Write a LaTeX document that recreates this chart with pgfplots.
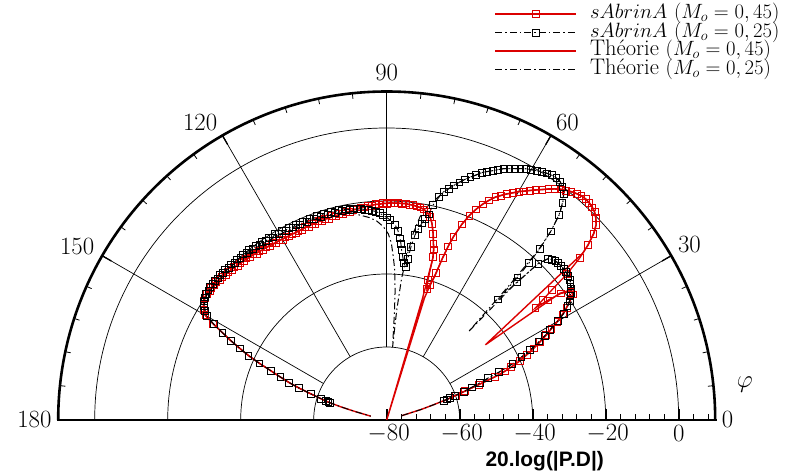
\documentclass[border=0pt]{standalone}
\usepackage{fontspec}
\usepackage{pgfplots}
\pgfplotsset{compat=1.18}
\usepackage{pgfplotstable}
\newfontfamily\labelfont{Liberation Sans}
\definecolor{myred}{rgb}{0.86,0,0}

\pgfplotstableread{
t r
18.4 -63.5
18.8 -62.5
19.2 -61.6
19.6 -60
20.3 -57.1
21.0 -53
21.7 -48.1
22.4 -45
23.0 -43
24.0 -40
25.0 -37.6
26.0 -35.2
27.0 -32.9
28.0 -30.5
29.0 -28.4
30.0 -26
31.0 -23.8
32.0 -21.9
33.0 -20.2
34.0 -18.4
35.0 -18.6
36.0 -21
36.6 -25
37.0 -29
37.6 -26
38.2 -22.5
39.0 -16.5
40.0 -11
41.0 -7
42.0 -3.8
43.0 -1.6
44.0 -0.4
45.0 0.5
46.0 1.0
47.0 1.3
48.0 1.4
49.0 1.3
50.0 0.9
51.0 0.4
52.0 -0.2
53.0 -0.9
54.0 -1.8
55.0 -2.8
56.0 -3.9
57.0 -4.9
58.0 -5.9
59.0 -6.9
60.0 -7.8
61.0 -8.9
62.0 -9.9
63.0 -11
64.0 -12.1
65.0 -13.6
66.0 -15.3
67.0 -17.3
68.0 -19.6
69.0 -22.6
70.0 -26.6
70.5 -29.5
71.0 -33
71.5 -37.5
72.2 -41
72.9 -42.5
73.6 -40
74.1 -33.5
74.6 -31.5
75.2 -30
76 -27.5
77 -24.8
78 -23
79 -22
80 -21.4
81 -21.0
82 -20.9
83 -20.6
84 -20.7
85 -20.4
86 -20.6
87 -20.4
88 -20.6
89 -20.4
90 -20.7
91 -20.6
92 -20.9
93 -20.8
94 -21.1
95 -21.0
96 -21.4
97 -21.3
98 -21.7
99 -21.6
100 -22.0
101 -21.9
102 -22.3
103 -22.1
104 -22.5
105 -22.2
106 -22.6
107 -22.3
108 -22.8
109 -22.4
110 -22.9
111 -22.5
112 -23.0
113 -22.6
114 -23.1
115 -22.7
116 -23.1
117 -22.7
118 -23.0
119 -22.7
120 -22.9
121 -22.5
122 -22.8
123 -22.3
124 -22.6
125 -22.1
126 -22.4
127 -21.9
128 -22.1
129 -21.6
130 -21.8
131 -21.3
132 -21.5
133 -21.0
134 -21.2
135 -20.7
136 -20.9
137 -20.4
138 -20.6
139 -20.2
140 -20.3
141 -19.9
142 -20.1
143 -19.8
144 -20.0
145 -19.8
146 -20.0
147 -20.2
148 -20.8
149 -21.6
150 -22.6
151 -25.6
152 -29
153 -32
154 -35.2
155 -38.2
156 -41.8
157 -45.6
158 -48.6
159 -51.3
160 -54.5
161 -58
162 -61
162.6 -62.5
163 -63.3
163.3 -63.8
}\redsim

\pgfplotstableread{
t r
18.4 -63.5
18.8 -62.5
19.2 -61.6
19.6 -60.2
20.3 -57.5
21.0 -55
21.7 -52.5
22.5 -50
23.1 -46.5
24.1 -42.3
25.0 -39.3
26.0 -36.3
27.3 -33
28.0 -31
28.9 -29
30.0 -25.8
31.0 -23.5
32.2 -21.5
33.0 -20.3
34.0 -19.3
34.6 -18.8
35.5 -18
36.5 -17.4
37.4 -16.9
38.5 -16.5
39.5 -16.3
40.5 -16.2
41.5 -16.2
42.5 -16.3
43.3 -16.5
44.1 -16.9
45.0 -17.5
45.9 -20.3
46.6 -28
47.3 -35
47.5 -27
47.8 -22
48.2 -17
49.0 -11.5
50.0 -6.5
51.0 -3.5
52.0 -1.3
53.0 0.0
54.0 0.7
55.0 1.0
56.0 0.9
57.0 0.6
58.0 0.2
59.0 -0.3
60.0 -0.8
61.0 -1.3
62.0 -2.0
63.0 -2.7
64.0 -3.4
65.0 -4.0
66.0 -4.9
67.0 -5.8
68.0 -6.6
69.0 -7.4
70.0 -8.6
71.0 -9.6
72.0 -10.7
73.0 -11.9
74.0 -13.1
75.0 -14.4
76.0 -15.6
76.8 -17.3
77.8 -19.7
78.5 -22.5
79.2 -24
79.9 -25.3
80.6 -27
81.3 -28.7
82.0 -32
82.5 -35.5
82.9 -37.8
83.8 -36.8
84.4 -35
85.0 -33.2
85.4 -31.5
85.8 -30.1
86.6 -28
87.5 -26.5
89.0 -25.2
90.0 -24.5
91.0 -23.9
92.0 -23.3
93.0 -22.8
94.0 -22.5
95.0 -22.1
96.0 -22.0
97.0 -21.7
98.0 -21.6
99 -21.3
100 -21.5
101 -21.1
102 -21.4
103 -21.0
104 -21.4
105 -20.9
106 -21.4
107 -20.9
108 -21.4
109 -20.9
110 -21.4
111 -20.9
112 -21.4
113 -20.9
114 -21.3
115 -20.9
116 -21.3
117 -20.8
118 -21.2
119 -20.7
120 -21.1
121 -20.6
122 -21.0
123 -20.5
124 -20.9
125 -20.4
126 -20.7
127 -20.3
128 -20.5
129 -20.1
130 -20.3
131 -19.9
132 -20.1
133 -19.8
134 -20.0
135 -19.7
136 -19.9
137 -19.5
138 -19.7
139 -19.4
140 -19.6
141 -19.4
142 -19.5
143 -19.4
144 -19.6
145 -19.6
146 -19.9
147 -20.3
148 -21.0
149 -21.8
150 -23
151 -25.8
152 -29
153 -32
154 -35.2
155 -38.2
156 -41.8
157 -45.6
158 -48.6
159 -51.3
160 -54.5
161 -58
162 -61
162.6 -62.5
163 -63.3
163.3 -63.8
}\blacksim

\pgfplotstableread{
t r
16 -75.7
17 -70.2
18 -66.5
19 -62
20 -58
21 -53
22 -46.5
23 -43
24 -40
25 -37.6
26 -35.2
27 -32.9
28 -30.5
29 -28.4
30 -26
31 -23.8
32 -21.9
33 -20.2
34 -18.6
34.6 -17.9
35.4 -18.8
36.2 -21.2
37.3 -46
40.4 -9.4
41 -6.8
42 -3.6
43 -1.5
44 -0.3
45 0.6
46 1.1
47 1.4
48 1.5
49 1.4
50 1.0
51 0.5
52 -0.1
53 -0.8
54 -1.7
55 -2.7
56 -3.8
57 -4.8
58 -5.8
59 -6.8
60 -7.7
61 -8.8
62 -9.8
63 -10.9
64 -12.0
65 -13.5
66 -15.2
67 -17.2
68 -19.6
69 -22.6
70 -26.6
70.5 -29.5
71 -33.5
71.5 -38.5
72.2 -41.5
72.8 -45
73.2 -80
73.6 -45
74.1 -34
74.6 -31.5
75.2 -29.8
76 -27.3
77 -24.8
78 -23
79 -22
80 -21.4
82 -20.9
84 -20.6
86 -20.5
88 -20.5
90 -20.6
92 -20.8
94 -21
96 -21.3
98 -21.6
100 -21.9
102 -22.1
104 -22.3
106 -22.4
108 -22.5
110 -22.6
112 -22.7
114 -22.8
116 -22.9
118 -22.9
120 -22.8
122 -22.7
124 -22.5
126 -22.3
128 -22
130 -21.7
132 -21.4
134 -21.1
136 -20.8
138 -20.5
140 -20.2
142 -20.0
144 -19.9
146 -19.9
147 -20.2
148 -20.8
149 -21.6
150 -22.6
151 -25.6
152 -29
153 -32
154 -35.2
155 -38.2
156 -41.8
157 -45.6
158 -48.6
159 -51.3
160 -54.5
161 -58
162 -61
163 -63.3
164 -67
165 -71
166.5 -75.5
}\redth

\pgfplotstableread{
t r
16 -75.7
17 -70.2
18 -66.5
19 -62
20 -58.5
21 -55
22 -51
23 -46.8
24 -42.5
25 -39.3
26 -36.3
27 -33.5
28 -31
29 -28.7
30 -26
31 -23.5
32 -21.6
33 -20.3
34 -19.3
35 -18.3
36 -17.5
37 -17
38 -16.6
39 -16.3
40 -16.2
41 -16.2
42 -16.3
43 -16.4
44 -16.9
45 -17.5
46 -21
46.7 -30
47.2 -47
47.7 -30
48.2 -18
49 -11.3
50 -6.3
51 -3.3
52 -1.2
53 0.1
54 0.8
55 1.0
56 0.9
57 0.6
58 0.2
59 -0.3
60 -0.8
61 -1.3
62 -2.0
63 -2.7
64 -3.4
65 -4.0
66 -4.9
67 -5.8
68 -6.6
69 -7.4
70 -8.6
71 -9.6
72 -10.7
73 -11.9
74 -13.1
75 -14.4
76 -15.6
77 -17.3
78 -18.8
78.7 -19.5
79.7 -21.5
80.7 -23.6
81.9 -28.3
83 -34.9
84 -41
84.8 -50
85.4 -60
85.9 -50
86.3 -44.3
87 -38.5
87.7 -35.2
88.5 -31.5
89.5 -29
91 -27
93 -25.3
95 -24.3
97.4 -23.4
100 -22.3
102 -21.9
104 -21.7
106 -21.6
108 -21.5
110 -21.5
112 -21.5
114 -21.5
116 -21.4
118 -21.4
120 -21.3
122 -21.2
124 -21.1
126 -20.9
128 -20.7
130 -20.5
132 -20.3
134 -20.2
136 -20.1
138 -19.9
140 -19.8
142 -19.7
144 -19.8
146 -20.1
147 -20.5
148 -21.2
149 -22
150 -23.2
151 -25.8
152 -29
153 -32
154 -35.2
155 -38.2
156 -41.8
157 -45.6
158 -48.6
159 -51.3
160 -54.5
161 -58
162 -61
163 -63.3
164 -67
165 -71
166.5 -75.5
}\blackth

\tikzset{dd/.style={dash pattern=on 7bp off 3bp on 1.5bp off 3bp}}

\begin{document}
\begin{tikzpicture}
% ---------- polar frame (origin = centre of the half disc, 1 dB = 3.65bp)
\begin{scope}[x=1bp,y=1bp]
  \foreach \r in {73,146,219,292}
    \draw[line width=0.7bp] (\r bp,0) arc[start angle=0,end angle=180,radius=\r bp];
  \foreach \a in {30,60,90,120,150}
    \draw[line width=0.7bp] (\a:73bp) -- (\a:328.5bp);
  \foreach \a in {6,12,...,174}
    \draw[line width=0.8bp] (\a:328.5bp) -- (\a:323bp);
  \foreach \a in {30,60,90,120,150}
    \draw[line width=1.3bp] (\a:328.5bp) -- (\a:318bp);
  \foreach \k in {1,...,22}
    \draw[line width=0.8bp] ({\k*14.6},0) -- ({\k*14.6},6.5);
  \foreach \x in {0,73,146,219,292}
    \draw[line width=1.6bp] (\x,0) -- (\x,11);
  \draw[line width=2.6bp] (328.5bp,0) arc[start angle=0,end angle=180,radius=328.5bp];
  \draw[line width=2.6bp] (-329.8,0) -- (329.8,0);
  % labels
  \begin{scope}[every node/.style={font=\fontsize{24}{28}\selectfont, inner sep=0pt}]
    \foreach \x/\l in {0/-80,73/-60,146/-40,219/-20}
      \node at (\x+2,-14) {$\l$};
    \node at (292,-14) {$0$};
    \node[anchor=east] at (-335,0) {$180$};
    \node[anchor=west] at (335,0) {$0$};
    \node at (90:347) {$90$};
    \node at (58.7:348) {$60$};
    \node at (122.1:351) {$120$};
    \node at (150.7:355) {$150$};
    \node at (30.1:350) {$30$};
    \node at (358,35) {$\varphi$};
  \end{scope}
  \node[font=\labelfont\bfseries\fontsize{21}{24}\selectfont, inner sep=0pt] at (158,-41) {20.log(|P.D|)};
\end{scope}

\begin{axis}[
  anchor=origin, at={(0,0)},
  x=3.65bp, y=3.65bp,
  xmin=-95, xmax=95, ymin=-5, ymax=95,
  hide axis, clip=false,
  legend cell align=left,
  legend style={at={(axis cs:29.6,113.8)}, anchor=north west, draw=none, fill=none,
    inner sep=0pt, outer sep=0pt, row sep=0pt, column sep=13bp,
    font=\fontsize{22.6}{24}\selectfont,
    nodes={inner sep=0pt, text height=14bp, text depth=4.6bp}},
  legend image code/.code={\draw[mark repeat=2,mark phase=2,#1] plot coordinates {(0bp,0bp) (40.5bp,0bp) (81bp,0bp)};},
]
\addplot[myred, line width=1.3bp, mark=square, mark size=3.4bp, mark options={solid, line width=0.7bp}]
  table[x expr={(\thisrow{r}+80)*cos(\thisrow{t})}, y expr={(\thisrow{r}+80)*sin(\thisrow{t})}] {\redsim};
\addlegendentry{$sAbrinA$ $(M_o=0,45)$}
\addplot[black, line width=0.9bp, dd, mark=square, mark size=3.4bp, mark options={solid, line width=0.7bp}]
  table[x expr={(\thisrow{r}+80)*cos(\thisrow{t})}, y expr={(\thisrow{r}+80)*sin(\thisrow{t})}] {\blacksim};
\addlegendentry{$sAbrinA$ $(M_o=0,25)$}
\addplot[myred, line width=1.4bp]
  table[x expr={(\thisrow{r}+80)*cos(\thisrow{t})}, y expr={(\thisrow{r}+80)*sin(\thisrow{t})}] {\redth};
\addlegendentry{Théorie $(M_o=0,45)$}
\addplot[black, line width=1bp, dd]
  table[x expr={(\thisrow{r}+80)*cos(\thisrow{t})}, y expr={(\thisrow{r}+80)*sin(\thisrow{t})}] {\blackth};
\addlegendentry{Théorie $(M_o=0,25)$}
\end{axis}

\pgfresetboundingbox
\useasboundingbox (-386.7bp,-55bp) rectangle (425.3bp,420bp);
\end{tikzpicture}
\end{document}
